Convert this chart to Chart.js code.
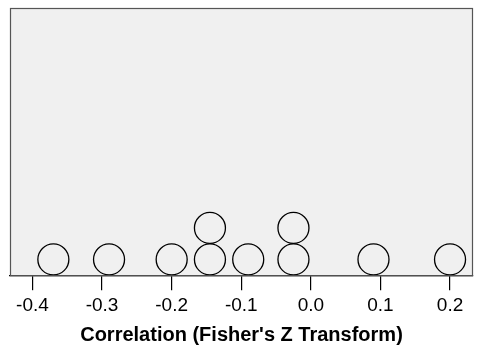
<!DOCTYPE html>
<html><head><meta charset="utf-8">
<script src="https://cdn.jsdelivr.net/npm/chart.js@4/dist/chart.umd.min.js"></script>
<style>html,body{margin:0;padding:0;background:#fff;}canvas{display:block;}</style>
</head><body>
<canvas id="c" width="483" height="356"></canvas>
<script>
const correlations = [-0.370, -0.290, -0.200, -0.145, -0.145, -0.090, -0.025, -0.025, 0.090, 0.200];
const stackLevels = [0.5, 0.5, 0.5, 0.5, 1.5, 0.5, 0.5, 1.5, 0.5, 0.5];
const tickValues = [-0.4, -0.3, -0.2, -0.1, 0.0, 0.1, 0.2];
const axisTitle = "Correlation (Fisher's Z Transform)";

const frame = {
  id: 'frame',
  beforeDatasetsDraw(chart) {
    const {ctx, chartArea: a} = chart;
    ctx.save();
    ctx.fillStyle = '#f0f0f0';
    ctx.fillRect(a.left, a.top, a.right - a.left, a.bottom - a.top);
    ctx.restore();
  },
  afterDatasetsDraw(chart) {
    const {ctx, chartArea: a} = chart;
    ctx.save();
    ctx.strokeStyle = '#555';
    ctx.lineWidth = 1.2;
    ctx.strokeRect(a.left + 0.5, a.top + 0.5, a.right - a.left - 1, a.bottom - a.top);
    ctx.restore();
  }
};

new Chart(document.getElementById('c'), {
  type: 'scatter',
  data: {
    datasets: [{
      data: correlations.map((v, i) => ({x: v, y: stackLevels[i]})),
      pointRadius: 15.5,
      pointHoverRadius: 15.5,
      borderColor: '#000',
      borderWidth: 1.3,
      backgroundColor: 'rgba(0,0,0,0)',
      clip: false
    }]
  },
  options: {
    responsive: false,
    animation: false,
    layout: {autoPadding: false, padding: {left: 10, right: 10, top: 8, bottom: 9}},
    plugins: {legend: {display: false}, tooltip: {enabled: false}},
    scales: {
      y: {display: false, min: 0, max: 8.47},
      x: {
        type: 'linear',
        min: -0.4323,
        max: 0.233,
        afterBuildTicks(scale) { scale.ticks = tickValues.map(v => ({value: v})); },
        ticks: {
          color: '#000',
          font: {family: 'Liberation Sans', size: 19},
          padding: 4,
          autoSkip: false,
          maxRotation: 0,
          callback: v => v.toFixed(1)
        },
        grid: {drawOnChartArea: false, color: '#000', tickLength: 15, lineWidth: 1.2},
        border: {display: true, color: '#000', width: 1.2},
        title: {
          display: true,
          text: axisTitle,
          color: '#000',
          font: {family: 'Liberation Sans', size: 20, weight: 'bold'},
          padding: {top: 2, bottom: 0}
        }
      }
    }
  },
  plugins: [frame]
});
</script>
</body></html>
